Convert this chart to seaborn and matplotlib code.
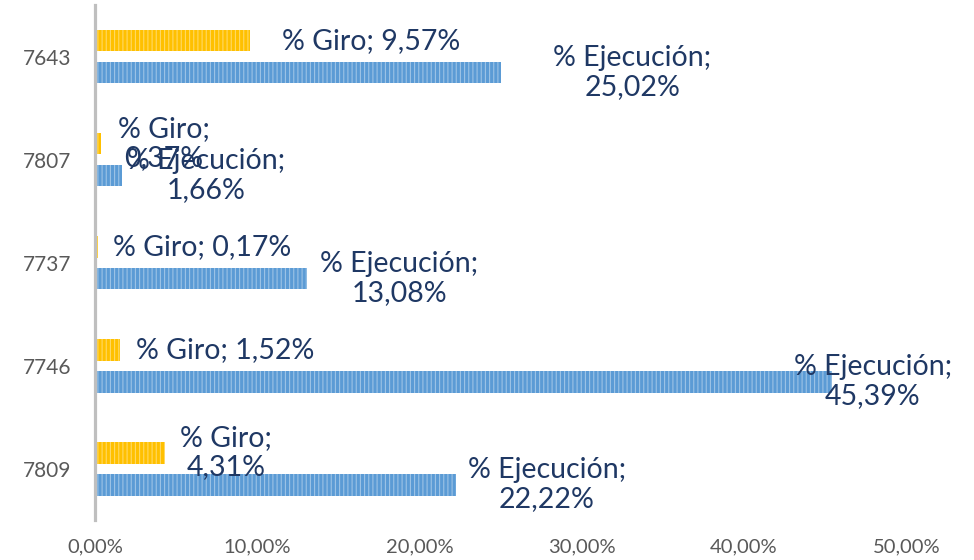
import pandas as pd
import numpy as np
import matplotlib
matplotlib.use("Agg")
import matplotlib.pyplot as plt
import seaborn as sns
from matplotlib.ticker import FuncFormatter

# data
codes = ["7643", "7807", "7737", "7746", "7809"]
series = ["% Giro", "% Ejecución"]
giro = [9.57, 0.37, 0.17, 1.52, 4.31]
ejecucion = [25.02, 1.66, 13.08, 45.39, 22.22]
giro_wrap = [False, True, False, False, True]   # Excel wrapped these labels

df = pd.DataFrame({
    "code": codes * 2,
    "serie": [series[0]] * len(codes) + [series[1]] * len(codes),
    "valor": giro + ejecucion,
})

def pct(v):
    return f"{v:.2f}".replace(".", ",") + "%"

sns.set_style("white")
plt.rcParams["font.family"] = ["Lato", "DejaVu Sans"]
plt.rcParams["hatch.linewidth"] = 0.8

fig = plt.figure(figsize=(9.74, 5.6), dpi=100)
ax = fig.add_axes([0.0975, 0.071, 0.833, 0.920])

yellow = "#FFC000"
blue = "#5B9BD5"
sns.barplot(data=df, x="valor", y="code", hue="serie", order=codes,
            hue_order=series, palette=[yellow, blue], orient="h",
            width=0.62, gap=0.32, saturation=1, legend=False, ax=ax)

for p in ax.patches:
    p.set_hatch("||||")
    p.set_edgecolor((1, 1, 1, 0.4))
    p.set_linewidth(0)

ax.set_xlim(0, 50)
ax.set_xticks(np.arange(0, 51, 10))
ax.xaxis.set_major_formatter(FuncFormatter(lambda v, _: pct(v)))
ax.set_xlabel("")
ax.set_ylabel("")
ax.tick_params(axis="x", length=0, pad=13, labelsize=14.5, labelcolor="#595959")
ax.tick_params(axis="y", length=0, pad=17, labelsize=15, labelcolor="#595959")

for s in ["top", "right", "bottom"]:
    ax.spines[s].set_visible(False)
ax.spines["left"].set_color("#BFBFBF")
ax.spines["left"].set_linewidth(2.3)

# label gaps (pixels from bar end), as Excel placed them
giro_gap = [32, 17, 15, 16, 15]
ejec_gap = [52, 5, 13, -38, 12]

navy = "#1F3864"
for h, (vals, gaps) in enumerate([(giro, giro_gap), (ejecucion, ejec_gap)]):
    bars = ax.containers[h]
    for i, bar in enumerate(bars):
        yc = bar.get_y() + bar.get_height() / 2
        if h == 0:
            sep = "\n" if giro_wrap[i] else " "
            txt = f"{series[0]};{sep}{pct(vals[i])}"
        else:
            txt = f"{series[1]};\n{pct(vals[i])}"
        ax.annotate(txt, xy=(bar.get_width(), yc),
                    xytext=(gaps[i] * 0.72, 0), textcoords="offset points",
                    ha="left", va="center", multialignment="center",
                    fontsize=20.5, color=navy, linespacing=1.15,
                    annotation_clip=False)

plt.savefig("out.png", dpi=100)
